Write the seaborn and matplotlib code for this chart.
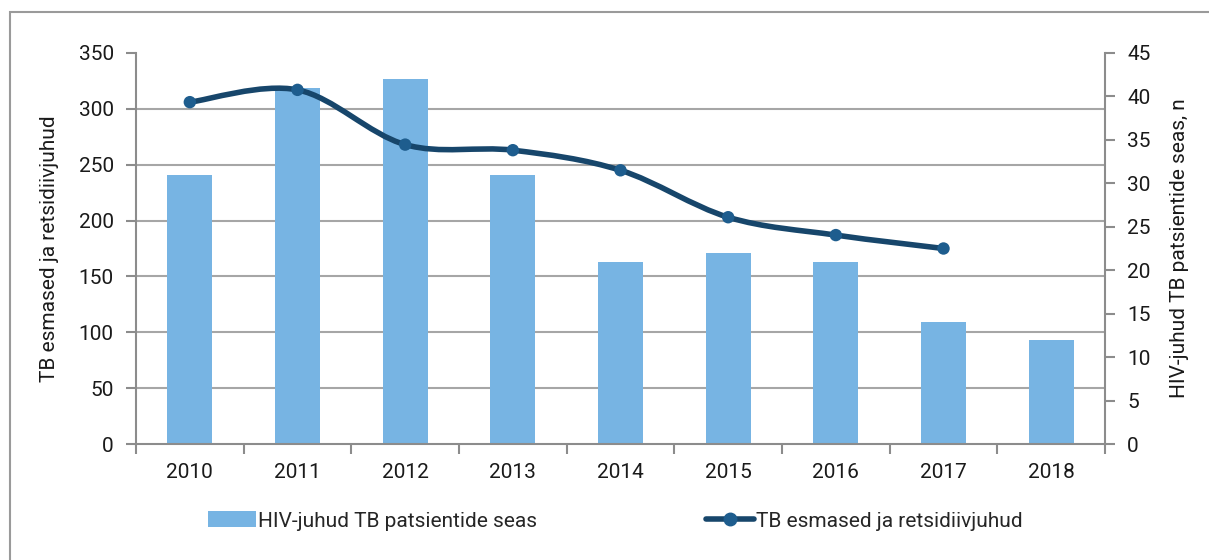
import numpy as np
import matplotlib
matplotlib.use("Agg")
import matplotlib.pyplot as plt
from matplotlib.path import Path
from matplotlib.patches import PathPatch, Patch, Rectangle
from matplotlib.lines import Line2D
import seaborn as sns
import pandas as pd

years = ["2010", "2011", "2012", "2013", "2014", "2015", "2016", "2017", "2018"]
hiv_cases = [31, 41, 42, 31, 21, 22, 21, 14, 12]
tb_years = ["2010", "2011", "2012", "2013", "2014", "2015", "2016", "2017"]
tb_cases = [306, 317, 268, 263, 245, 203, 187, 175]

bar_label = "HIV-juhud TB patsientide seas"
line_label = "TB esmased ja retsidiivjuhud"
left_ylabel = "TB esmased ja retsidiivjuhud"
right_ylabel = "HIV-juhud TB patsientide seas, n"

BAR_C = "#77b4e3"
LINE_C = "#17466b"
MARK_C = "#1e5d8e"
GRID_C = "#a6a6a6"
SPINE_C = "#8c8c8c"
TXT_C = "#1a1a1a"

sns.set_theme(style="white")
plt.rcParams["font.family"] = ["Roboto", "DejaVu Sans"]
FS = 15

fig = plt.figure(figsize=(12.09, 5.6), dpi=100)
ax = fig.add_axes([136/1209, 1-444/560, (1105-136)/1209, (444-53)/560])

df = pd.DataFrame({"year": years, "hiv": hiv_cases})
sns.barplot(data=df, x="year", y="hiv", ax=ax, color=BAR_C, width=0.42,
            saturation=1, zorder=2, edgecolor="none")
ax2 = ax.twinx()

ax.set_xlim(-0.5, len(years) - 0.5)
ax.set_ylim(0, 45)
ax.yaxis.tick_right()
ax.yaxis.set_label_position("right")
ax.set_yticks(np.arange(0, 46, 5))
# gridlines follow the left (0-350) scale
ax.set_yticks(np.arange(0, 351, 50) * 45 / 350, minor=True)
ax.grid(True, which="minor", axis="y", color=GRID_C, lw=1.5, zorder=0)
ax.grid(False, which="major")
ax.set_axisbelow(True)
ax.tick_params(axis="y", which="major", left=False, right=True, labelleft=False,
               labelright=True, length=7, width=1.5,
               color=SPINE_C, labelsize=FS, labelcolor=TXT_C, pad=9)
ax.tick_params(axis="y", which="minor", length=0, left=False, right=False)
ax.set_xticks(np.arange(len(years)))
ax.set_xticklabels(years)
ax.set_xticks(np.arange(-0.5, len(years), 1.0), minor=True)
ax.tick_params(axis="x", which="major", length=0, labelsize=FS,
               labelcolor=TXT_C, pad=14)
ax.tick_params(axis="x", which="minor", bottom=True, length=7, width=1.5,
               color=SPINE_C)
ax.set_xlabel("")
ax.set_ylabel(right_ylabel, fontsize=FS, color=TXT_C, labelpad=14)
ax.spines["top"].set_visible(False)
for s in ["left", "right", "bottom"]:
    ax.spines[s].set_color(SPINE_C)
    ax.spines[s].set_linewidth(1.5)

ax2.set_ylim(0, 350)
ax2.yaxis.tick_left()
ax2.yaxis.set_label_position("left")
ax2.set_yticks(np.arange(0, 351, 50))
ax2.tick_params(axis="y", left=True, right=False, labelleft=True,
                labelright=False, length=7, width=1.5,
                color=SPINE_C, labelsize=FS, labelcolor=TXT_C, pad=9)
ax2.set_ylabel(left_ylabel, fontsize=FS, color=TXT_C, labelpad=14)
ax2.grid(False)
for s in ax2.spines.values():
    s.set_visible(False)

# smoothed line (Catmull-Rom style Bezier, like Excel smoothing)
xs = np.array([years.index(y) for y in tb_years], dtype=float)
ys = np.array(tb_cases, dtype=float)
pts = np.column_stack([xs, ys])
verts = [tuple(pts[0])]
codes = [Path.MOVETO]
n = len(pts)
for i in range(n - 1):
    p0 = pts[max(i - 1, 0)]
    p1 = pts[i]
    p2 = pts[i + 1]
    p3 = pts[min(i + 2, n - 1)]
    c1 = p1 + (p2 - p0) / 6.0
    c2 = p2 - (p3 - p1) / 6.0
    verts += [tuple(c1), tuple(c2), tuple(p2)]
    codes += [Path.CURVE4] * 3
ax2.add_patch(PathPatch(Path(verts, codes), facecolor="none", edgecolor=LINE_C,
                        lw=4.0, capstyle="round", joinstyle="round", zorder=3))
sns.scatterplot(x=xs, y=ys, ax=ax2, s=80, color=MARK_C, edgecolor="none",
                zorder=4, legend=False)
ax2.set_xlim(-0.5, len(years) - 0.5)

handles = [Patch(facecolor=BAR_C, edgecolor="none", label=bar_label),
           Line2D([0], [0], color=LINE_C, lw=4.0, marker="o", markersize=9,
                  markerfacecolor=MARK_C, markeredgecolor=MARK_C,
                  label=line_label)]
fig.legend(handles=handles, loc="center", bbox_to_anchor=(0.509, 1 - 521/560),
           ncol=2, frameon=False, fontsize=FS, handlelength=2.3,
           handleheight=0.8, handletextpad=0.1, columnspacing=8.1)

fig.patches.append(Rectangle((10/1209, -0.1), 1.2, 1 - 12/560 + 0.1,
                             transform=fig.transFigure, fill=False,
                             edgecolor="#9a9a9a", lw=1.5, zorder=0))

fig.savefig("out.png", dpi=100)
